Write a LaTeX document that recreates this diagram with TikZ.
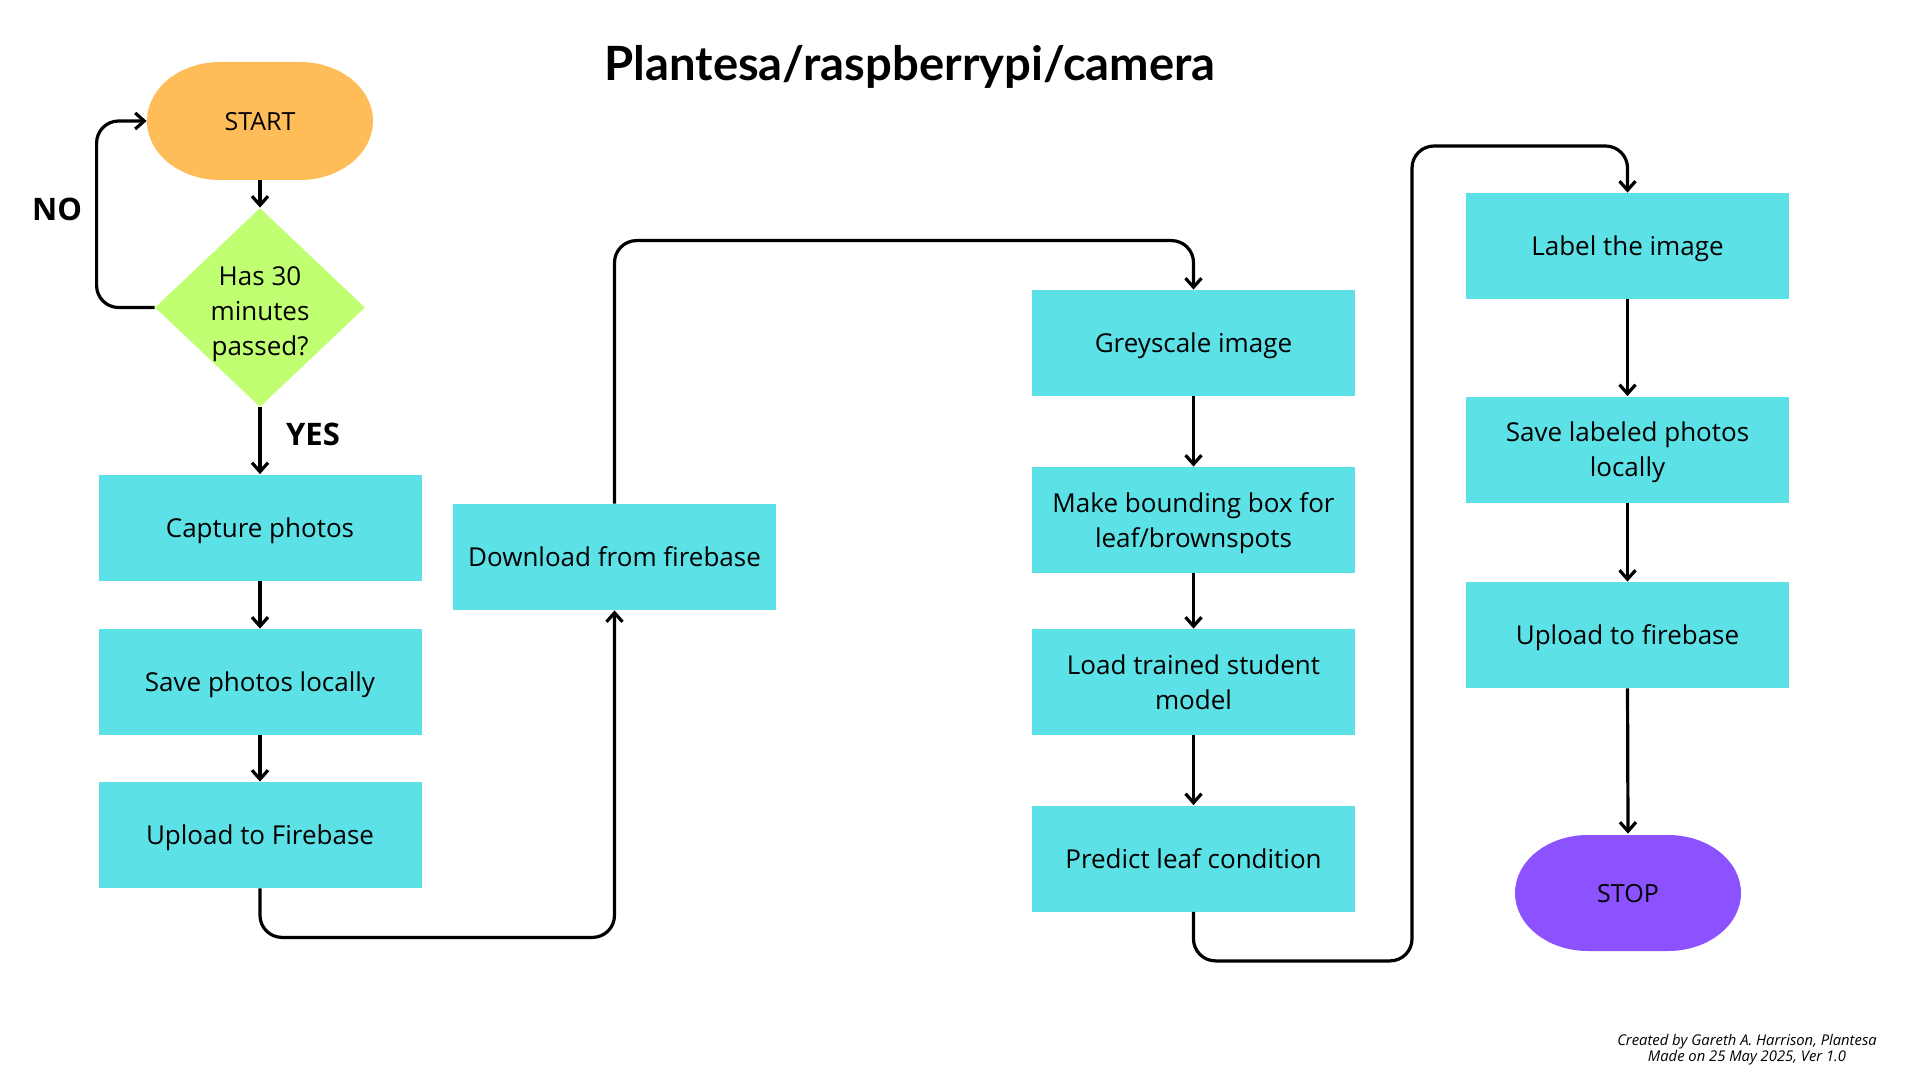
\documentclass[tikz,border=0pt]{standalone}
\usepackage{fontspec}
\setmainfont{Open Sans}
\newfontfamily\titlefont{Lato}
\usetikzlibrary{arrows.meta,shapes.geometric}
\definecolor{boxc}{HTML}{5CE1E6}
\definecolor{decc}{HTML}{C1FF72}
\definecolor{startc}{HTML}{FFBD59}
\definecolor{stopc}{HTML}{8C52FF}
\begin{document}
\begin{tikzpicture}[x=0.5pt,y=-0.5pt,
  proc/.style={rectangle, fill=boxc, minimum width=161.5pt, minimum height=53pt,
    inner sep=0pt, align=center, text depth=0pt, font=\fontsize{13}{17.5}\selectfont},
  term/.style={rectangle, minimum width=113pt, minimum height=59pt, inner sep=0pt,
    text depth=0pt, font=\fontsize{12.5}{15}\selectfont},
  conn/.style={line width=1.6pt, rounded corners=11pt,
    -{Straight Barb[length=4.5pt,width=8pt]}},
  lbl/.style={text depth=0pt, font=\bfseries\fontsize{15.5}{18}\selectfont}
]
\fill[white] (0,0) rectangle (1920,1080);
\useasboundingbox (0,0) rectangle (1920,1080);

% title
\node[text depth=0pt] (title) at (910,63) {\titlefont\bfseries\fontsize{23.6}{28}\selectfont Plantesa/raspberrypi/camera};

% terminals (elliptic-ended stadium fills)
\fill[startc] (220,62) -- (300,62) arc[start angle=-90,end angle=90,x radius=73,y radius=59]
  -- (220,180) arc[start angle=90,end angle=270,x radius=73,y radius=59] -- cycle;
\node[term] (start) at (260,121) {START};
\fill[stopc] (1588,835) -- (1668,835) arc[start angle=-90,end angle=90,x radius=73,y radius=58]
  -- (1588,951) arc[start angle=90,end angle=270,x radius=73,y radius=58] -- cycle;
\node[term] (stop) at (1628,893) {STOP};

% decision
\node[diamond, fill=decc, minimum width=105pt, minimum height=99.5pt, inner sep=0pt] (dec) at (260,307.5) {};
\node[align=center, inner sep=0pt, text depth=0pt, font=\fontsize{13}{17.5}\selectfont] (dectxt) at (260,311) {Has 30\\minutes\\passed?};

% column 1
\node[proc] (cap) at (260,527.5) {Capture photos};
\node[proc] (save) at (260,682) {Save photos locally};
\node[proc] (up) at (260,835) {Upload to Firebase};
% column 2
\node[proc] (down) at (614.5,557) {Download from firebase};
% column 3
\node[proc] (grey) at (1193.5,343) {Greyscale image};
\node[proc] (bbox) at (1193.5,520) {Make bounding box for\\leaf/brownspots};
\node[proc] (load) at (1193.5,682) {Load trained student\\model};
\node[proc] (pred) at (1193.5,858.5) {Predict leaf condition};
% column 4
\node[proc] (label) at (1627.5,246) {Label the image};
\node[proc] (savel) at (1627.5,449.5) {Save labeled photos\\locally};
\node[proc] (upl) at (1627.5,635) {Upload to firebase};

% labels
\node[lbl] (no) at (57,209) {NO};
\node[lbl] (yes) at (313,434) {YES};

% connectors
\draw[conn] (start.south) -- (dec.north);
\draw[conn] (dec.west) -- ++(-58,0) |- (start.west);
\draw[conn] (dec.south) -- (cap.north);
\draw[conn] (cap.south) -- (save.north);
\draw[conn] (save.south) -- (up.north);
\draw[conn] (up.south) -- ++(0,49) -| (down.south);
\draw[conn] (down.north) -- ++(0,-263) -| (grey.north);
\draw[conn] (grey.south) -- (bbox.north);
\draw[conn] (bbox.south) -- (load.north);
\draw[conn] (load.south) -- (pred.north);
\coordinate (k) at (1412,146);
\draw[conn] (pred.south) -- ++(0,49) -| (k) -| (label.north);
\draw[conn] (label.south) -- (savel.north);
\draw[conn] (savel.south) -- (upl.north);
\draw[conn] (upl.south) -- (stop.north);

% credit
\node[align=center, font=\itshape\fontsize{7.4}{8.1}\selectfont] (credit) at (1747,1050)
  {Created by Gareth A. Harrison, Plantesa\\Made on 25 May 2025, Ver 1.0};
\end{tikzpicture}
\end{document}
